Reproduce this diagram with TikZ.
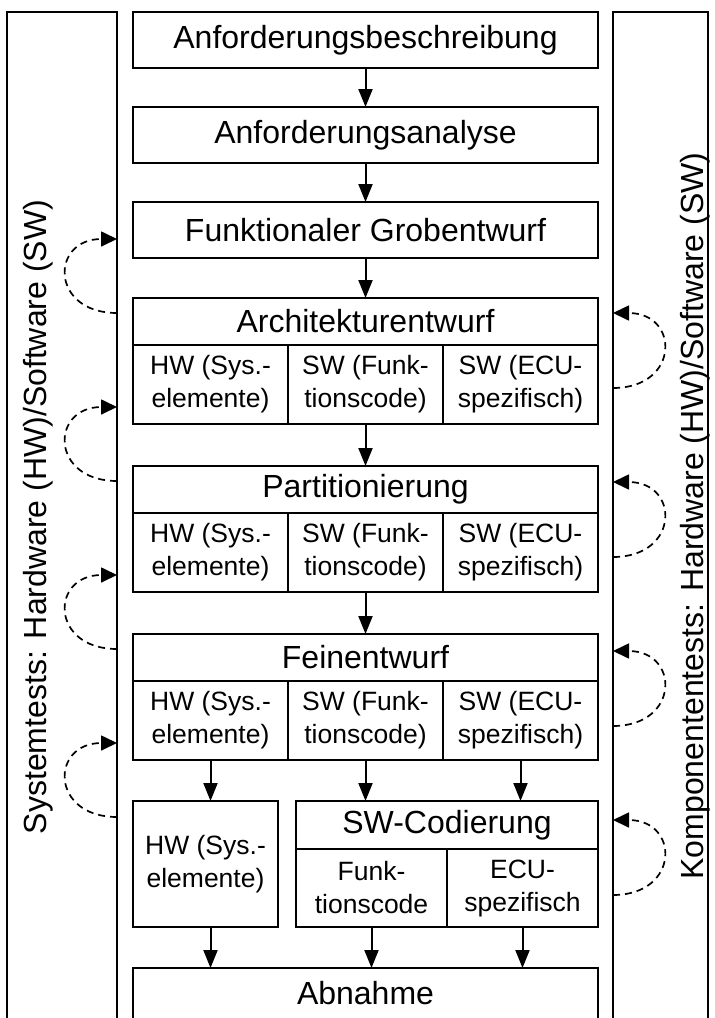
\documentclass[tikz,border=0pt]{standalone}
\usepackage{fontspec}
\setmainfont{Liberation Sans}
\usetikzlibrary{arrows.meta}
\newcommand\fbig{\fontsize{32}{38}\selectfont}
\newcommand\fsmall{\fontsize{26.5}{33}\selectfont}
\newcommand\fside{\fontsize{32}{38}\selectfont}
\begin{document}
\begin{tikzpicture}[x=1pt,y=-1pt,
  bx/.style={draw, line width=2pt, outer sep=0pt, inner sep=0pt, anchor=north west, align=center},
  big/.style={bx, font=\fbig},
  cell/.style={bx, font=\fsmall, minimum width=155pt, minimum height=79pt},
  flow/.style={line width=2pt, -{Triangle[length=18pt,width=14pt]}},
  loopc/.style={line width=1.7pt, dash pattern=on 7pt off 5pt, -{Triangle[length=16pt,width=15pt]}},
  frame/.style={line width=2pt},
  sidetext/.style={rotate=90, font=\fside, inner sep=0pt}]
\useasboundingbox (0,0) rectangle (715,1018);
\clip (0,0) rectangle (715,1018);
% side frames
\draw[frame] (7,1040) -- (7,12) -- (117,12) -- (117,1040);
\draw[frame] (613,1040) -- (613,12) -- (708,12) -- (708,1040);
\node[sidetext] (lt) at (38,517) {Systemtests: Hardware (HW)/Software (SW)};
\node[sidetext] (rt) at (695,516) {Komponententests: Hardware (HW)/Software (SW)};
% main flow
\node[big, minimum width=465pt, minimum height=56pt] (b1) at (133,12) {Anforderungsbeschreibung};
\node[big, minimum width=465pt, minimum height=56pt] (b2) at (133,107) {Anforderungsanalyse};
\node[big, minimum width=465pt, minimum height=56pt] (b3) at (133,202) {Funktionaler Grobentwurf};
% Architekturentwurf
\node[big, minimum width=465pt, minimum height=47pt] (a0) at (133,298) {Architekturentwurf};
\node[cell] (a1) at (133,345) {HW (Sys.-\\elemente)};
\node[cell] (a2) at (288,345) {SW (Funk-\\tionscode)};
\node[cell] (a3) at (443,345) {SW (ECU-\\spezifisch)};
% Partitionierung
\node[big, minimum width=465pt, minimum height=47pt] (p0) at (133,466) {Partitionierung};
\node[cell] (p1) at (133,513) {HW (Sys.-\\elemente)};
\node[cell] (p2) at (288,513) {SW (Funk-\\tionscode)};
\node[cell] (p3) at (443,513) {SW (ECU-\\spezifisch)};
% Feinentwurf
\node[big, minimum width=465pt, minimum height=47pt] (f0) at (133,634) {Feinentwurf};
\node[cell] (f1) at (133,681) {HW (Sys.-\\elemente)};
\node[cell] (f2) at (288,681) {SW (Funk-\\tionscode)};
\node[cell] (f3) at (443,681) {SW (ECU-\\spezifisch)};
% HW and SW coding
\node[bx, font=\fsmall, minimum width=145pt, minimum height=126pt] (hw) at (133,801) {HW (Sys.-\\elemente)};
\node[big, minimum width=302pt, minimum height=48pt] (s0) at (296,801) {SW-Codierung};
\node[bx, font=\fsmall, minimum width=151pt, minimum height=78pt] (s1) at (296,849) {Funk-\\tionscode};
\node[bx, font=\fsmall, minimum width=151pt, minimum height=78pt] (s2) at (447,849) {ECU-\\spezifisch};
% Abnahme
\node[bx, draw=none, font=\fbig, minimum width=465pt, minimum height=50pt] (ab) at (133,968) {Abnahme};
\draw[frame] ([yshift=-30pt]ab.south west) -- (ab.north west) -- (ab.north east) -- ([yshift=-30pt]ab.south east);
% flow arrows
\draw[flow] (b1) -- (b2);
\draw[flow] (b2) -- (b3);
\draw[flow] (b3) -- (a0);
\draw[flow] (a2) -- (p0);
\draw[flow] (p2) -- (f0);
\draw[flow] (f1.south) -- (f1.south |- hw.north);
\draw[flow] (f2.south) -- (f2.south |- s0.north);
\draw[flow] (f3.south) -- (f3.south |- s0.north);
\draw[flow] (f1.south |- hw.south) -- (f1.south |- ab.north);
\draw[flow] (s1.south) -- (s1.south |- ab.north);
\draw[flow] (s2.south) -- (s2.south |- ab.north);
% dashed loops, left
\foreach \i/\lo/\hi in {1/313/239, 2/481/407, 3/649/575, 4/817/743} {
  \coordinate (ls\i) at (117,\lo);
  \coordinate (le\i) at (117,\hi);
  \draw[loopc] (ls\i) .. controls (50,\lo) and (50,\hi) .. (le\i);
}
% dashed loops, right
\foreach \i/\lo/\hi in {1/388/313, 2/557/482, 3/726/651, 4/895/820} {
  \coordinate (rs\i) at (613,\lo);
  \coordinate (re\i) at (613,\hi);
  \draw[loopc] (rs\i) .. controls (680,\lo) and (680,\hi) .. (re\i);
}
\end{tikzpicture}
\end{document}
